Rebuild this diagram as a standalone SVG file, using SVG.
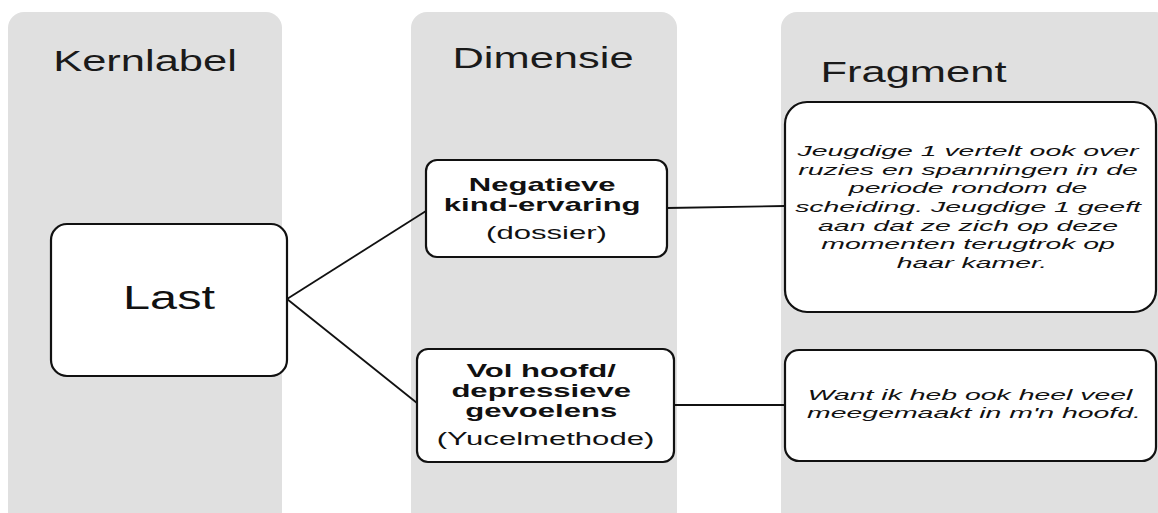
<svg xmlns="http://www.w3.org/2000/svg" width="1158" height="513" viewBox="0 0 1158 513">
<style>
.col{fill:#e0e0e0}
.box{fill:#fff;stroke:#111;stroke-width:2.2}
.hdr{font-family:"Liberation Sans",Arial,sans-serif;font-size:29px;fill:#1a1a1a;text-anchor:middle}
.dim{font-family:"Liberation Sans",Arial,sans-serif;font-size:18.5px;fill:#111;text-anchor:middle}
.b{font-weight:bold}
.frag{font-family:"Liberation Sans",Arial,sans-serif;font-size:14.8px;font-style:italic;fill:#111;text-anchor:middle}
.con{stroke:#111;stroke-width:1.8;fill:none}
</style>
<rect width="1158" height="513" fill="#fff"/>
<g id="columns">
<rect class="col" x="8" y="12" width="274" height="515" rx="16"/>
<rect class="col" x="411" y="12" width="266" height="515" rx="16"/>
<rect class="col" x="781" y="12" width="390" height="515" rx="16"/>
<text class="hdr" transform="translate(145,71) scale(1.5,1)">Kernlabel</text>
<text class="hdr" transform="translate(543,68) scale(1.5,1)">Dimensie</text>
<text class="hdr" transform="translate(913.5,82) scale(1.5,1)">Fragment</text>
</g>
<g id="connectors">
<line class="con" x1="287" y1="299" x2="426" y2="211"/>
<line class="con" x1="287" y1="299" x2="417" y2="403"/>
<line class="con" x1="667" y1="208" x2="785" y2="206"/>
<line class="con" x1="674" y1="405" x2="785" y2="405"/>
</g>
<g id="node-last">
<rect class="box" x="51" y="224" width="236" height="152" rx="16"/>
<text class="hdr" style="font-size:33.5px;fill:#111" transform="translate(169,309) scale(1.45,1)">Last</text>
</g>
<g id="node-negatieve">
<rect class="box" x="426" y="160" width="241" height="97" rx="11"/>
<text class="dim" transform="translate(546.5,0) scale(1.68,1)">
<tspan class="b" x="0" y="191.5">Negatieve</tspan>
<tspan class="b" x="0" y="211">kind-ervaring</tspan>
<tspan x="0" y="239">(dossier)</tspan>
</text>
</g>
<g id="node-volhoofd">
<rect class="box" x="417" y="349" width="257" height="113" rx="11"/>
<text class="dim" transform="translate(545.5,0) scale(1.68,1)">
<tspan class="b" x="0" y="377">Vol hoofd/</tspan>
<tspan class="b" x="0" y="397">depressieve</tspan>
<tspan class="b" x="0" y="417">gevoelens</tspan>
<tspan x="0" y="445">(Yucelmethode)</tspan>
</text>
</g>
<g id="node-fragment1">
<rect class="box" x="785" y="102" width="371" height="210" rx="22"/>
<text class="frag" transform="translate(972,0) scale(1.92,1)">
<tspan x="0" y="156">Jeugdige 1 vertelt ook over</tspan>
<tspan x="0" y="174.7">ruzies en spanningen in de</tspan>
<tspan x="0" y="193.4">periode rondom de</tspan>
<tspan x="0" y="212">scheiding. Jeugdige 1 geeft</tspan>
<tspan x="0" y="230.7">aan dat ze zich op deze</tspan>
<tspan x="0" y="249.4">momenten terugtrok op</tspan>
<tspan x="0" y="268">haar kamer.</tspan>
</text>
</g>
<g id="node-fragment2">
<rect class="box" x="785" y="350" width="371" height="111" rx="14"/>
<text class="frag" transform="translate(974,0) scale(1.92,1)">
<tspan x="0" y="400">Want ik heb ook heel veel</tspan>
<tspan x="0" y="418.5">meegemaakt in m'n hoofd.</tspan>
</text>
</g>
</svg>
